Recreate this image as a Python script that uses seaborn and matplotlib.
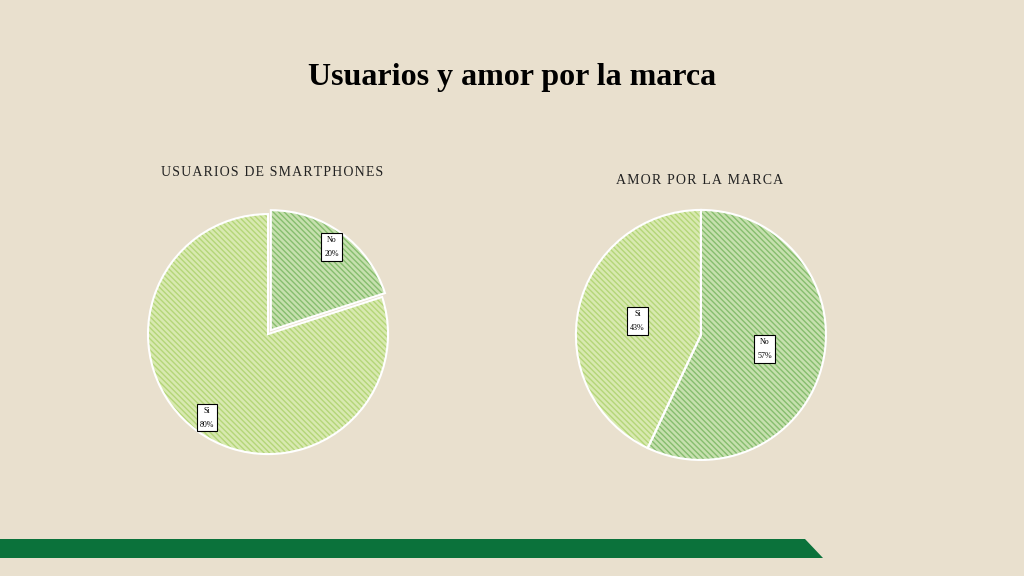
import numpy as np
import pandas as pd
import matplotlib
matplotlib.use("Agg")
import matplotlib.pyplot as plt
import seaborn as sns
from matplotlib.patches import Polygon

# data
usuarios_cat = ["No", "Si"]
usuarios_val = [20, 80]
amor_cat = ["No", "Si"]
amor_val = [57, 43]
titulo = "Usuarios y amor por la marca"
sub1 = "USUARIOS DE SMARTPHONES"
sub2 = "AMOR POR LA MARCA"

bg = "#E9E0CE"
base_cols = ["#C6E0AE", "#D8E9B0"]
hatch_cols = ["#86BD6E", "#B4D678"]

sns.set_theme(style="white")
plt.rcParams["font.family"] = ["Liberation Serif", "DejaVu Serif"]

fig = plt.figure(figsize=(10.24, 5.76), dpi=100, facecolor=bg)


def spaced(s):
    # letter spacing with hair spaces
    return "\u200a".join(s)


def draw_pie(ax, cats, vals, explode, pctdist):
    lab = dict(zip([f"{v:.0f}" for v in vals], cats))
    # fill + hatch pass
    wedges, _, autot = ax.pie(
        vals, startangle=90, counterclock=False, explode=explode,
        colors=base_cols, radius=1,
        autopct=lambda p: f"{lab[f'{p:.0f}']}\n{p:.0f}%",
        pctdistance=pctdist,
        wedgeprops=dict(linewidth=0, hatch="\\\\\\\\\\\\"),
        textprops=dict(fontsize=5.8, color="black", linespacing=2.0, ha="center",
                       bbox=dict(boxstyle="square,pad=0.35", fc="white", ec="black", lw=0.8)),
    )
    for w, hc in zip(wedges, hatch_cols):
        w.set_edgecolor(hc)
    # white outline pass
    ax.pie(vals, startangle=90, counterclock=False, explode=explode, radius=1,
           wedgeprops=dict(fill=False, edgecolor="white", linewidth=1.5))
    ax.set_xlim(-1.2, 1.2)
    ax.set_ylim(-1.2, 1.2)
    ax.set_aspect("equal")
    ax.axis("off")


ax1 = fig.add_axes([0.1211, 0.170, 0.28125, 0.5])
draw_pie(ax1, usuarios_cat, usuarios_val, [0.04, 0], 0.86)

ax2 = fig.add_axes([0.538, 0.158, 0.293, 0.521])
draw_pie(ax2, amor_cat, amor_val, [0, 0], 0.52)

fig.text(0.5, 1 - 77 / 576, titulo, ha="center", va="center",
         fontsize=23, fontweight="bold", color="black")
fig.text(272 / 1024, 1 - 172 / 576, spaced(sub1), ha="center", va="center",
         fontsize=10, color="#222222")
fig.text(700 / 1024, 1 - 180 / 576, spaced(sub2), ha="center", va="center",
         fontsize=10, color="#222222")

# bottom green band
band = Polygon([(0, 1 - 539 / 576), (805 / 1024, 1 - 539 / 576),
                (823 / 1024, 1 - 558 / 576), (0, 1 - 558 / 576)],
               closed=True, transform=fig.transFigure, facecolor="#0B723B",
               edgecolor="none")
fig.add_artist(band)

fig.savefig("out.png", dpi=100, facecolor=bg)
